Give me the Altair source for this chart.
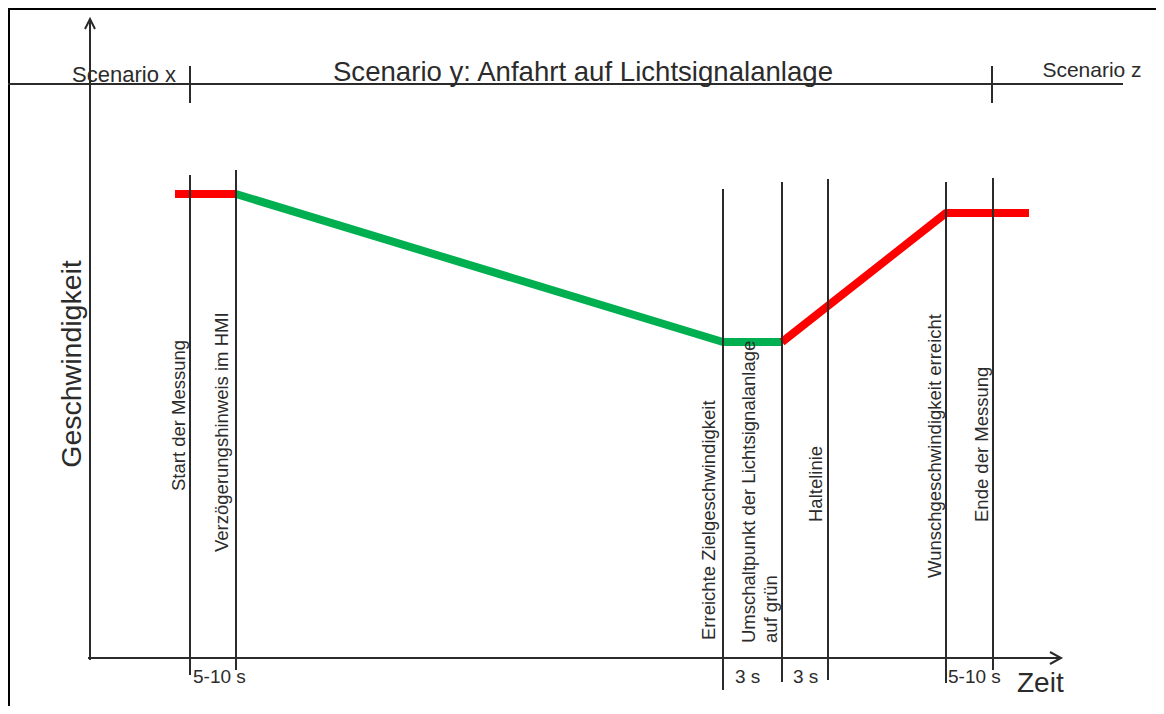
import altair as alt
import pandas as pd

# ---- schematic units: t = time, v = speed (axis origin at t=0, v=0) ----
# speed profile (three coloured segments)
profile_segment = ["a", "a", "b", "b", "b", "c", "c", "c"]
profile_color = ["#ff0000", "#ff0000", "#00b050", "#00b050", "#00b050", "#ff0000", "#ff0000", "#ff0000"]
profile_t = [8.5, 14.6, 14.6, 63.3, 69.2, 69.2, 85.6, 93.9]
profile_v = [46.4, 46.4, 46.4, 31.6, 31.6, 31.6, 44.5, 44.5]

# event lines
event_t = [10.0, 14.6, 63.3, 69.2, 73.8, 85.6, 90.3]
event_top = [48.3, 48.8, 46.9, 47.6, 47.9, 47.6, 48.0]
event_bottom = [-1.7, -1.2, -3.2, -2.4, -2.2, -2.5, -1.2]

# vertical event labels
label_text = ["Start der Messung", "Verzögerungshinweis im HMI", "Erreichte Zielgeschwindigkeit",
              "Umschaltpunkt der Lichtsignalanlage", "auf grün", "Haltelinie",
              "Wunschgeschwindigkeit erreicht", "Ende der Messung"]
label_t = [9.5, 13.8, 62.5, 66.5, 68.7, 73.2, 85.1, 89.8]
label_v = [16.7, 10.6, 1.8, 1.5, 1.5, 13.6, 8.0, 13.6]

# interval labels below the time axis
interval_text = ["5-10 s", "3 s", "3 s", "5-10 s"]
interval_t = [10.3, 64.5, 70.3, 85.8]
interval_v = [-2.5, -2.5, -2.5, -2.5]

# scenario band
scenario_text = ["Scenario x", "Scenario y: Anfahrt auf Lichtsignalanlage", "Scenario z"]
scenario_t = [3.4, 49.3, 100.2]
scenario_v = [57.6, 57.7, 58.1]
scenario_size = [22, 27.6, 21]
scenario_line_v = 57.4
scenario_line_t = [-8.2, 103.3]
scenario_tick_t = [10.0, 90.2]
scenario_tick_v = [59.2, 55.5]

# axes
y_axis_v = [-0.2, 63.9]
x_axis_t = [-0.2, 97.1]
y_arrow_t = [-0.5, 0.0, 0.5]
y_arrow_v = [62.9, 63.9, 62.9]
x_arrow_t = [96.0, 97.1, 96.0]
x_arrow_v = [0.6, 0.0, -0.6]

T_DOM = [-8.2, 106.6]
V_DOM = [-4.8, 65.0]
INK = "#2b2b2b"
FONT = "Liberation Sans"

xs = alt.Scale(domain=T_DOM, nice=False, zero=False)
ys = alt.Scale(domain=V_DOM, nice=False, zero=False)


def X(f="t"):
    return alt.X(f"{f}:Q", scale=xs, axis=None)


def Y(f="v"):
    return alt.Y(f"{f}:Q", scale=ys, axis=None)


# border (top and left)
border_top = alt.Chart(pd.DataFrame({"t": [T_DOM[0]], "t2": [T_DOM[1]], "v": [64.9]})).mark_rule(
    color="#000000", strokeWidth=2).encode(x=X(), x2="t2:Q", y=Y())
border_left = alt.Chart(pd.DataFrame({"t": [-8.1], "v": [V_DOM[0]], "v2": [V_DOM[1]]})).mark_rule(
    color="#000000", strokeWidth=2).encode(x=X(), y=Y(), y2="v2:Q")

# speed profile
prof_df = pd.DataFrame({"seg": profile_segment, "col": profile_color, "t": profile_t,
                        "v": profile_v, "o": list(range(len(profile_t)))})
profile = alt.Chart(prof_df).mark_line(strokeWidth=8, strokeJoin="round", strokeCap="butt").encode(
    x=X(), y=Y(), detail="seg:N", color=alt.Color("col:N", scale=None), order="o:Q")

# axes
y_axis = alt.Chart(pd.DataFrame({"t": [0.0], "v": [y_axis_v[0]], "v2": [y_axis_v[1]]})).mark_rule(
    color=INK, strokeWidth=2).encode(x=X(), y=Y(), y2="v2:Q")
x_axis = alt.Chart(pd.DataFrame({"t": [x_axis_t[0]], "t2": [x_axis_t[1]], "v": [0.0]})).mark_rule(
    color=INK, strokeWidth=2).encode(x=X(), x2="t2:Q", y=Y())
y_arrow = alt.Chart(pd.DataFrame({"t": y_arrow_t, "v": y_arrow_v, "o": [0, 1, 2]})).mark_line(
    color=INK, strokeWidth=2).encode(x=X(), y=Y(), order="o:Q")
x_arrow = alt.Chart(pd.DataFrame({"t": x_arrow_t, "v": x_arrow_v, "o": [0, 1, 2]})).mark_line(
    color=INK, strokeWidth=2).encode(x=X(), y=Y(), order="o:Q")

# event lines
ev_df = pd.DataFrame({"t": event_t, "v": event_bottom, "v2": event_top})
events = alt.Chart(ev_df).mark_rule(color=INK, strokeWidth=2).encode(x=X(), y=Y(), y2="v2:Q")

# scenario line and ticks
sc_line = alt.Chart(pd.DataFrame({"t": [scenario_line_t[0]], "t2": [scenario_line_t[1]],
                                  "v": [scenario_line_v]})).mark_rule(color=INK, strokeWidth=2).encode(
    x=X(), x2="t2:Q", y=Y())
sc_ticks = alt.Chart(pd.DataFrame({"t": scenario_tick_t, "v": [scenario_tick_v[1]] * 2,
                                   "v2": [scenario_tick_v[0]] * 2})).mark_rule(
    color=INK, strokeWidth=2).encode(x=X(), y=Y(), y2="v2:Q")
sc_text = alt.Chart(pd.DataFrame({"t": scenario_t, "v": scenario_v, "s": scenario_size,
                                  "txt": scenario_text})).mark_text(
    font=FONT, color=INK, align="center", baseline="alphabetic").encode(
    x=X(), y=Y(), text="txt:N", size=alt.Size("s:Q", scale=None))

# vertical labels
lab = alt.Chart(pd.DataFrame({"t": label_t, "v": label_v, "txt": label_text})).mark_text(
    font=FONT, color=INK, fontSize=18.5, angle=270, align="left", baseline="alphabetic").encode(
    x=X(), y=Y(), text="txt:N")

# interval labels
intervals = alt.Chart(pd.DataFrame({"t": interval_t, "v": interval_v, "txt": interval_text})).mark_text(
    font=FONT, color=INK, fontSize=19, align="left", baseline="alphabetic").encode(
    x=X(), y=Y(), text="txt:N")

# axis titles
y_title = alt.Chart(pd.DataFrame({"t": [-0.9], "v": [29.4], "txt": ["Geschwindigkeit"]})).mark_text(
    font=FONT, color=INK, fontSize=28.5, angle=270, align="center", baseline="alphabetic").encode(
    x=X(), y=Y(), text="txt:N")
x_title = alt.Chart(pd.DataFrame({"t": [92.7], "v": [-3.4], "txt": ["Zeit"]})).mark_text(
    font=FONT, color=INK, fontSize=28, align="left", baseline="alphabetic").encode(
    x=X(), y=Y(), text="txt:N")

chart = alt.layer(
    border_top, border_left, profile, y_axis, x_axis, y_arrow, x_arrow, events,
    sc_line, sc_ticks, sc_text, lab, intervals, y_title, x_title
).properties(
    width=1148, height=698, autosize=alt.AutoSizeParams(type="none"), padding=0,
    background="#ffffff"
).configure_view(stroke=None)

chart.save("out.html", embed_options={"renderer": "svg", "actions": False})
